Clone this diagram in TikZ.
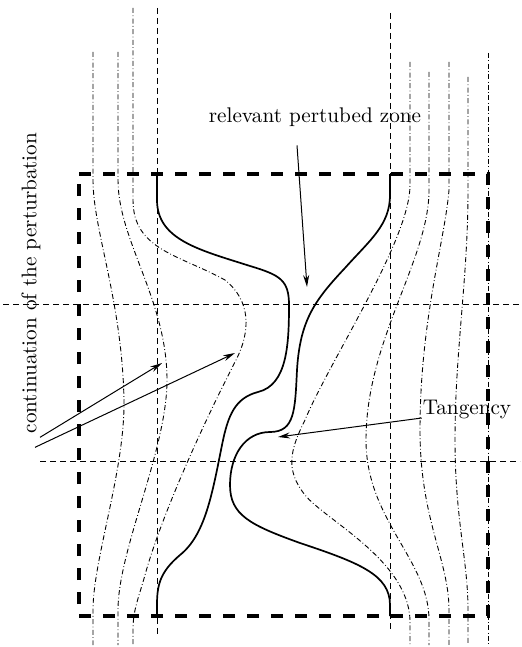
\documentclass[tikz,border=0pt]{standalone}
\usetikzlibrary{arrows.meta}
\usetikzlibrary{calc}

\begin{document}
\begin{tikzpicture}[x=0.5pt, y=-0.5pt, % ein Pixel der Vorlage
  every node/.style={font=\fontsize{10.6}{12.7}\selectfont},
  rahmen/.style={line width=2pt, dash pattern=on 6pt off 6pt},
  hilfs/.style={line width=0.45pt, dash pattern=on 3pt off 2pt},
  feld/.style={line width=0.45pt, dash pattern=on 2.5pt off 1.2pt on 0.4pt off 1.2pt},
  rand/.style={line width=0.85pt},
  pfeil/.style={line width=0.5pt, -{Stealth[length=6pt,width=3pt]}}]
\useasboundingbox (0,0) rectangle (522,647);

% Rahmen
\draw[rahmen] (79,174) -- (488,174) -- (488,616) -- (79,616) -- cycle;

% Hilfslinien
\foreach \y/\xa in {304/3, 461/40} {
  \draw[hilfs] (\xa,\y) -- (520,\y);
}
\draw[hilfs] (157,8) -- (157,637);
\draw[hilfs] (390,13) -- (390,632);

% Feldlinien links
\draw[feld] (93,52) -- (93,180) .. controls (93,230) and (122,300) .. (124,400)
  .. controls (125,470) and (93,560) .. (93,610) -- (93,645);
\draw[feld] (118,52) -- (118,180) .. controls (118,240) and (167,300) .. (167,380)
  .. controls (167,450) and (118,550) .. (118,610) -- (118,645);
\draw[feld] (133,8) -- (133,200) .. controls (133,250) and (180,255) .. (225,280)
  .. controls (250,300) and (252,330) .. (235,362)
  .. controls (200,430) and (160,520) .. (145,575)
  .. controls (138,600) and (133,610) .. (133,630) -- (133,645);

% Feldlinien rechts
\draw[feld] (410,62) -- (410,185) .. controls (410,240) and (330,360) .. (305,420)
  .. controls (290,450) and (285,470) .. (305,495)
  .. controls (325,520) and (408,560) .. (410,620) -- (410,645);
\draw[feld] (429,72) -- (429,190) .. controls (429,260) and (366,340) .. (366,440)
  .. controls (366,520) and (429,560) .. (429,620) -- (429,645);
\draw[feld] (449,62) -- (449,190) .. controls (445,240) and (420,320) .. (420,430)
  .. controls (420,520) and (449,560) .. (449,610) -- (449,645);
\draw[feld] (468,77) -- (468,190) .. controls (468,280) and (455,350) .. (455,440)
  .. controls (455,520) and (468,560) .. (468,610) -- (468,645);
\draw[feld] (488,53) -- (488,645);

% Randkurven
\draw[rand] (157,174) -- (157,200) .. controls (157,240) and (200,250) .. (250,266)
  .. controls (280,275) and (289,280) .. (289,305)
  .. controls (289,345) and (287,385) .. (258,392)
  .. controls (235,398) and (228,415) .. (222,445)
  .. controls (212,495) and (205,535) .. (180,555)
  .. controls (160,572) and (157,585) .. (157,605) -- (157,616);
\draw[rand] (390,174) -- (390,195) .. controls (390,225) and (370,240) .. (345,268)
  .. controls (315,300) and (300,320) .. (297,370)
  .. controls (295,410) and (295,432) .. (270,432)
  .. controls (245,432) and (230,455) .. (230,485)
  .. controls (230,515) and (250,525) .. (300,543)
  .. controls (360,563) and (390,575) .. (390,605) -- (390,616);

% Beschriftungen
\node (zone) at (315,117) {relevant pertubed zone};
\node (tang) at (467,410) {Tangency};
\node[rotate=90] (cont) at (31,283) {continuation of the perturbation};

% Pfeile
\coordinate (zonetip) at (307,287);
\coordinate (tangtip) at (278,437);
\coordinate (contA) at (162,363);
\coordinate (contB) at (235,353);
\draw[pfeil] ([xshift=-9pt,yshift=-6pt]zone.south) -- (zonetip);
\draw[pfeil] ([xshift=3pt,yshift=-4pt]tang.west) -- (tangtip);
\draw[pfeil] ([xshift=4.5pt,yshift=1.5pt]cont.west) -- (contA);
\draw[pfeil] ([xshift=2pt,yshift=-3.5pt]cont.west) -- (contB);

\end{tikzpicture}
\end{document}
